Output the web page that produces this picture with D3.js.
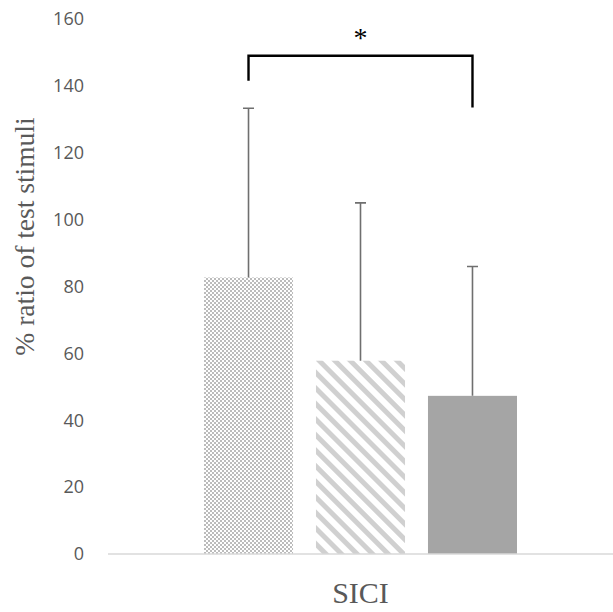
<!DOCTYPE html>
<html>
<head>
<meta charset="utf-8">
<script src="https://cdn.jsdelivr.net/npm/d3@7"></script>
<style>
	body { margin: 0; background: #fff; }
	svg { display: block; }
</style>
</head>
<body>
<script>
"use strict";

// data
const categories = ["SICI"];
const series = ["A", "B", "C"];
const means = [82.7, 57.8, 47.3];
const errorsUp = [50.6, 47.2, 38.7]; // upper SD
const yTicks = [0, 20, 40, 60, 80, 100, 120, 140, 160];
const bracket = { from: 0, to: 2, top: 149, leftEnd: 141.5, rightEnd: 133.5, label: "*" };

const w = 613;
const h = 612;
const margin = { top: 19, bottom: 58, left: 108, right: 0 };

const svg = d3.select("body")
	.append("svg")
	.attr("width", w)
	.attr("height", h);

const defs = svg.append("defs");

// dotted checker fill
const checker = defs.append("pattern")
	.attr("id", "checker")
	.attr("patternUnits", "userSpaceOnUse")
	.attr("width", 4)
	.attr("height", 4);
checker.append("rect").attr("width", 4).attr("height", 4).attr("fill", "#fff");
checker.append("rect").attr("width", 2).attr("height", 2).attr("fill", "#bcbcbc");
checker.append("rect").attr("x", 2).attr("y", 2).attr("width", 2).attr("height", 2).attr("fill", "#bcbcbc");

// diagonal stripes
const stripes = defs.append("pattern")
	.attr("id", "stripes")
	.attr("patternUnits", "userSpaceOnUse")
	.attr("width", 11)
	.attr("height", 11)
	.attr("patternTransform", "rotate(-45)");
stripes.append("rect").attr("width", 11).attr("height", 11).attr("fill", "#fff");
stripes.append("rect").attr("width", 5).attr("height", 11).attr("fill", "#d0d0d0");

const fills = ["url(#checker)", "url(#stripes)", "#a5a5a5"];

const y = d3.scaleLinear()
	.domain([0, 160])
	.range([h - margin.bottom, margin.top]);

const x0 = d3.scaleBand()
	.domain(categories)
	.range([margin.left, w - margin.right])
	.paddingOuter(0.3067)
	.paddingInner(0);

const x1 = d3.scaleBand()
	.domain(series)
	.range([0, x0.bandwidth()])
	.paddingInner(0.205)
	.paddingOuter(0);

// y tick labels, no axis line
const yAxis = d3.axisLeft(y)
	.tickValues(yTicks)
	.tickSize(0)
	.tickPadding(0);
const gy = svg.append("g")
	.attr("transform", "translate(84,0)")
	.call(yAxis)
	.attr("font-size", 18)
	.attr("font-family", "'Open Sans', sans-serif");
gy.select(".domain").remove();
gy.selectAll("text")
	.attr("fill", "#595959");

const group = svg.append("g")
	.attr("transform", `translate(${x0("SICI")},0)`);

const rows = series.map((s, i) => ({ s, mean: means[i], err: errorsUp[i], fill: fills[i] }));

group.selectAll("rect.bar")
	.data(rows)
	.join("rect")
	.attr("class", "bar")
	.attr("x", d => x1(d.s))
	.attr("y", d => y(d.mean))
	.attr("width", x1.bandwidth())
	.attr("height", d => y(0) - y(d.mean))
	.attr("fill", d => d.fill);

// error bars (upper only)
const cap = 5.5;
group.selectAll("path.err")
	.data(rows)
	.join("path")
	.attr("class", "err")
	.attr("d", d => {
		const cx = x1(d.s) + x1.bandwidth() / 2;
		const top = y(d.mean + d.err);
		return `M${cx},${y(d.mean)}V${top}M${cx - cap},${top}H${cx + cap}`;
	})
	.attr("fill", "none")
	.attr("stroke", "#6f6f6f")
	.attr("stroke-width", 1.6);

// baseline
svg.append("line")
	.attr("x1", margin.left)
	.attr("x2", w - margin.right)
	.attr("y1", y(0))
	.attr("y2", y(0))
	.attr("stroke", "#d9d9d9")
	.attr("stroke-width", 1.5);

// significance bracket
const bx1 = x0("SICI") + x1(series[bracket.from]) + x1.bandwidth() / 2;
const bx2 = x0("SICI") + x1(series[bracket.to]) + x1.bandwidth() / 2;
svg.append("path")
	.attr("d", `M${bx1},${y(bracket.leftEnd)}V${y(bracket.top)}H${bx2}V${y(bracket.rightEnd)}`)
	.attr("fill", "none")
	.attr("stroke", "#000")
	.attr("stroke-width", 2.4);
svg.append("text")
	.attr("x", (bx1 + bx2) / 2)
	.attr("y", y(bracket.top) - 9)
	.attr("text-anchor", "middle")
	.attr("font-family", "'Liberation Serif', serif")
	.attr("font-size", 28)
	.attr("fill", "#000")
	.text(bracket.label);

// category label
svg.append("text")
	.attr("x", x0("SICI") + x0.bandwidth() / 2)
	.attr("y", 603)
	.attr("text-anchor", "middle")
	.attr("font-family", "'Liberation Serif', serif")
	.attr("font-size", 30)
	.attr("fill", "#595959")
	.text(categories[0]);

// y title
svg.append("text")
	.attr("transform", `translate(34,${(y(0) + y(160)) / 2 - 50}) rotate(-90)`)
	.attr("text-anchor", "middle")
	.attr("font-family", "'Liberation Serif', serif")
	.attr("font-size", 27.5)
	.attr("fill", "#595959")
	.text("% ratio of test stimuli");
</script>
</body>
</html>
